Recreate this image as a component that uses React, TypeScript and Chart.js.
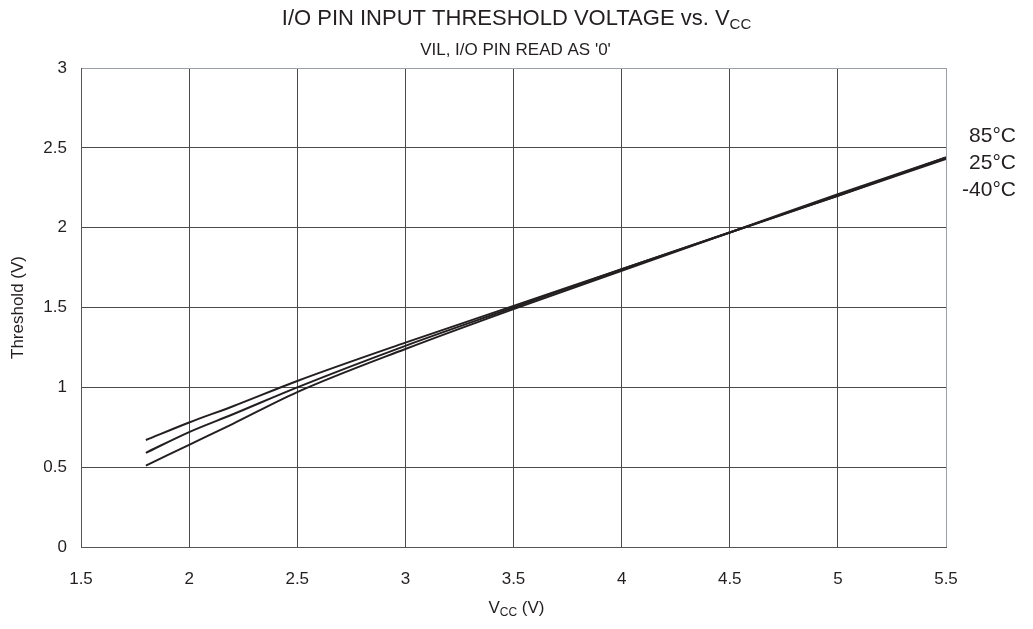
import React, { useEffect, useRef } from "react";
import { Chart, registerables } from "chart.js";

Chart.register(...registerables);

const vcc = [1.8, 2.0, 2.2, 2.5, 3.0, 3.5, 4.0, 4.5, 5.0, 5.5];
const t85 = [0.67, 0.78, 0.88, 1.04, 1.28, 1.51, 1.74, 1.97, 2.21, 2.44];
const t25 = [0.59, 0.72, 0.83, 1.0, 1.26, 1.5, 1.74, 1.97, 2.2, 2.44];
const tm40 = [0.51, 0.64, 0.77, 0.97, 1.24, 1.49, 1.73, 1.97, 2.2, 2.43];
const seriesLabels = ["85°C", "25°C", "-40°C"];
const xTicks = [1.5, 2, 2.5, 3, 3.5, 4, 4.5, 5, 5.5];
const yTicks = [0, 0.5, 1, 1.5, 2, 2.5, 3];

const FONT = "'Liberation Sans', Arial, sans-serif";

const textPlugin = {
  id: "textPlugin",
  afterDraw(chart: any) {
    const ctx = chart.ctx as CanvasRenderingContext2D;
    const area = chart.chartArea;
    ctx.save();
    ctx.fillStyle = "#231f20";
    ctx.textBaseline = "alphabetic";
    // Title with subscript
    const cx = (area.left + area.right) / 2 + 3;
    const main = "I/O PIN INPUT THRESHOLD VOLTAGE vs. V";
    const sub = "CC";
    ctx.font = `22px ${FONT}`;
    const wMain = ctx.measureText(main).width;
    ctx.font = `15px ${FONT}`;
    const wSub = ctx.measureText(sub).width;
    const startX = cx - (wMain + wSub) / 2;
    ctx.textAlign = "left";
    ctx.font = `22px ${FONT}`;
    ctx.fillText(main, startX, 17);
    ctx.font = `15px ${FONT}`;
    ctx.fillText(sub, startX + wMain, 21);
    // Subtitle
    ctx.font = `17px ${FONT}`;
    ctx.textAlign = "center";
    ctx.fillText("VIL, I/O PIN READ AS '0'", cx - 1, 47);
    // X axis title with subscript
    const xa = "V";
    const xs = "CC";
    const xr = " (V)";
    ctx.font = `17px ${FONT}`;
    const w1 = ctx.measureText(xa).width;
    const w3 = ctx.measureText(xr).width;
    ctx.font = `12px ${FONT}`;
    const w2 = ctx.measureText(xs).width;
    const sx = cx - (w1 + w2 + w3) / 2;
    const by = 605;
    ctx.textAlign = "left";
    ctx.font = `17px ${FONT}`;
    ctx.fillText(xa, sx, by);
    ctx.font = `12px ${FONT}`;
    ctx.fillText(xs, sx + w1, by + 3);
    ctx.font = `17px ${FONT}`;
    ctx.fillText(xr, sx + w1 + w2, by);
    // Y axis title
    ctx.save();
    ctx.translate(15, (area.top + area.bottom) / 2);
    ctx.rotate(-Math.PI / 2);
    ctx.textAlign = "center";
    ctx.font = `17px ${FONT}`;
    ctx.fillText("Threshold (V)", 0, 0);
    ctx.restore();
    // Right-side series labels
    ctx.font = `21px ${FONT}`;
    ctx.textAlign = "right";
    const ys = [134, 161, 187.5];
    seriesLabels.forEach((l, i) => ctx.fillText(l, 1008, ys[i]));
    ctx.restore();
  },
};

export default function App() {
  const ref = useRef<HTMLCanvasElement>(null);
  useEffect(() => {
    if (!ref.current) return;
    const mk = (d: number[], label: string) => ({
      label,
      data: vcc.map((x, i) => ({ x, y: d[i] })),
      borderColor: "#231f20",
      borderWidth: 2,
      pointRadius: 0,
      cubicInterpolationMode: "monotone" as const,
      fill: false,
    });
    const chart = new Chart(ref.current, {
      type: "line",
      data: { datasets: [mk(t85, seriesLabels[0]), mk(t25, seriesLabels[1]), mk(tm40, seriesLabels[2])] },
      options: {
        animation: false,
        responsive: false,
        maintainAspectRatio: false,
        layout: { padding: { top: 60, right: 79, left: 0, bottom: 0 } },
        plugins: { legend: { display: false }, tooltip: { enabled: false }, title: { display: false } },
        scales: {
          x: {
            type: "linear",
            min: 1.5,
            max: 5.5,
            afterBuildTicks: (s: any) => { s.ticks = xTicks.map((v) => ({ value: v })); },
            afterFit: (s: any) => { s.height = 74; },
            ticks: {
              color: "#231f20",
              font: { family: FONT, size: 17 },
              padding: 22,
              maxRotation: 0,
              callback: (v: any) => String(v),
            },
            grid: {
              color: (c: any) => (c.tick && c.tick.value === 5.5 ? "#9aa0a6" : "#4a4a4a"),
              lineWidth: 1,
              drawTicks: false,
            },
            border: { color: "#555555", width: 1 },
          },
          y: {
            min: 0,
            max: 3,
            afterBuildTicks: (s: any) => { s.ticks = yTicks.map((v) => ({ value: v })); },
            afterFit: (s: any) => { s.width = 73; },
            ticks: {
              color: "#231f20",
              font: { family: FONT, size: 17 },
              padding: 14,
              callback: (v: any) => String(v),
            },
            grid: {
              color: (c: any) => (c.tick && c.tick.value === 3 ? "#9aa0a6" : "#4a4a4a"),
              lineWidth: 1,
              drawTicks: false,
            },
            border: { color: "#555555", width: 1 },
          },
        },
      },
      plugins: [textPlugin],
    });
    return () => chart.destroy();
  }, []);
  return (
    <div style={{ width: 1017, height: 613 }}>
      <canvas ref={ref} width={1017} height={613} style={{ display: "block" }} />
    </div>
  );
}
